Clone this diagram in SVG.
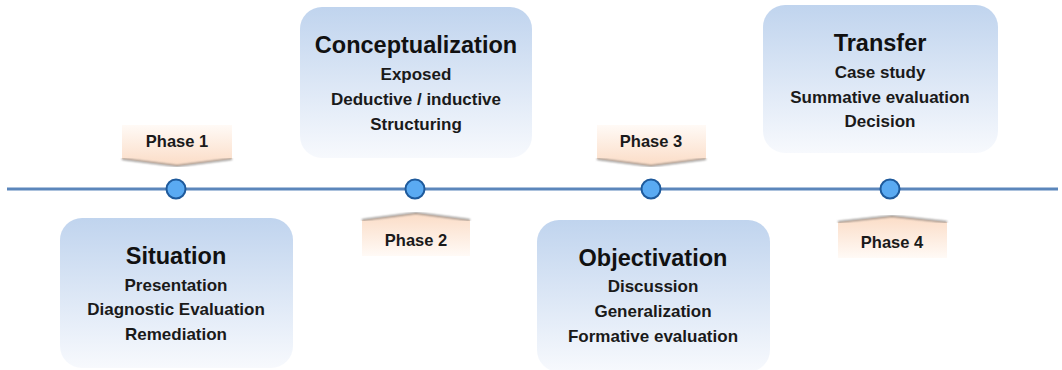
<svg xmlns="http://www.w3.org/2000/svg" width="1062" height="370" viewBox="0 0 1062 370">
<defs>
<linearGradient id="boxGrad" x1="0" y1="0" x2="0" y2="1">
<stop offset="0" stop-color="#c0d4ee"/>
<stop offset="1" stop-color="#f7f9fd"/>
</linearGradient>
<linearGradient id="tagDown" x1="0" y1="0" x2="0" y2="1">
<stop offset="0" stop-color="#fffaf6"/>
<stop offset="1" stop-color="#fbdcc6"/>
</linearGradient>
<linearGradient id="tagUp" x1="0" y1="0" x2="0" y2="1">
<stop offset="0" stop-color="#fbdcc6"/>
<stop offset="1" stop-color="#fffaf6"/>
</linearGradient>
<filter id="soft" x="-10%" y="-10%" width="120%" height="120%">
<feGaussianBlur stdDeviation="1.2"/>
</filter>
</defs>
<style>
.box{fill:url(#boxGrad);}
.title{font-family:"Liberation Sans",Arial,sans-serif;font-weight:bold;font-size:23.5px;fill:#111;text-anchor:middle;}
.sub{font-family:"Liberation Sans",Arial,sans-serif;font-weight:bold;font-size:17px;fill:#1a1a1a;text-anchor:middle;}
.tagtxt{font-family:"Liberation Sans",Arial,sans-serif;font-weight:bold;font-size:16.5px;fill:#1a1a1a;text-anchor:middle;}
.edge{fill:none;stroke:#7a7470;stroke-width:1.5;}
.dot{fill:#5aaaf2;stroke:#1e5a9c;stroke-width:2;}
</style>
<g id="connectors">
<line x1="7" y1="189" x2="1058" y2="189" stroke="#5b86bb" stroke-width="3"/>
</g>
<g id="situation">
<rect class="box" x="60" y="218" width="233" height="150" rx="22"/>
<text class="title" x="176" y="264">Situation</text>
<text class="sub" x="176" y="291">Presentation</text>
<text class="sub" x="176" y="315">Diagnostic Evaluation</text>
<text class="sub" x="176" y="340">Remediation</text>
</g>
<g id="conceptualization">
<rect class="box" x="300" y="7" width="232" height="151" rx="22"/>
<text class="title" x="416" y="53">Conceptualization</text>
<text class="sub" x="416" y="80">Exposed</text>
<text class="sub" x="416" y="105">Deductive / inductive</text>
<text class="sub" x="416" y="130">Structuring</text>
</g>
<g id="objectivation">
<rect class="box" x="537" y="220" width="233" height="152" rx="22"/>
<text class="title" x="653" y="266">Objectivation</text>
<text class="sub" x="653" y="292">Discussion</text>
<text class="sub" x="653" y="317">Generalization</text>
<text class="sub" x="653" y="342">Formative evaluation</text>
</g>
<g id="transfer">
<rect class="box" x="763" y="5" width="235" height="148" rx="22"/>
<text class="title" x="880" y="51">Transfer</text>
<text class="sub" x="880" y="78">Case study</text>
<text class="sub" x="880" y="103">Summative evaluation</text>
<text class="sub" x="880" y="127">Decision</text>
</g>
<g id="phase1">
<path d="M122,125 H232 V159 L177,166 L122,159 Z" fill="url(#tagDown)"/>
<path class="edge" d="M122,159 L177,166 L232,159" filter="url(#soft)"/>
<text class="tagtxt" x="177" y="147">Phase 1</text>
</g>
<g id="phase2">
<path d="M362,256 H470 V220 L416,213 L362,220 Z" fill="url(#tagUp)"/>
<path class="edge" d="M362,220 L416,213 L470,220" filter="url(#soft)"/>
<text class="tagtxt" x="416" y="246">Phase 2</text>
</g>
<g id="phase3">
<path d="M597,125 H706 V159 L651,166 L597,159 Z" fill="url(#tagDown)"/>
<path class="edge" d="M597,159 L651,166 L706,159" filter="url(#soft)"/>
<text class="tagtxt" x="651" y="147">Phase 3</text>
</g>
<g id="phase4">
<path d="M838,258 H947 V222 L892,216 L838,222 Z" fill="url(#tagUp)"/>
<path class="edge" d="M838,222 L892,216 L947,222" filter="url(#soft)"/>
<text class="tagtxt" x="892" y="248">Phase 4</text>
</g>
<g id="markers">
<circle class="dot" cx="176" cy="189" r="9.5"/>
<circle class="dot" cx="415" cy="189" r="9.5"/>
<circle class="dot" cx="651" cy="189" r="9.5"/>
<circle class="dot" cx="890" cy="189" r="9.5"/>
</g>
</svg>
